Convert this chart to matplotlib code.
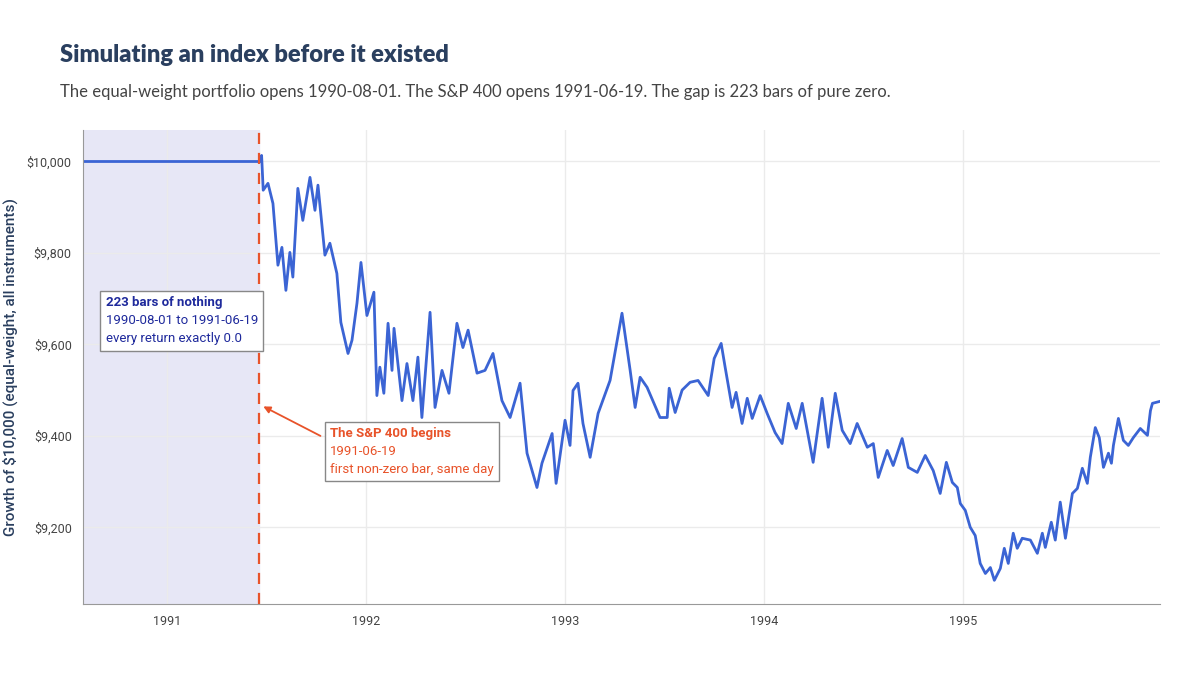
import matplotlib

matplotlib.use("Agg")

import matplotlib.pyplot as plt

plt.rcParams["text.parse_math"] = False
plt.rcParams["font.family"] = ["Roboto", "DejaVu Sans"]

# portafolio equal-weight (anio decimal, valor)
inicio_portafolio = 1990.583
inicio_sp400 = 1991.464
anios = [
    1991.464, 1991.476, 1991.484, 1991.508, 1991.533, 1991.558, 1991.578, 1991.598, 1991.618, 1991.633,
    1991.658, 1991.683, 1991.719, 1991.744, 1991.759, 1991.794, 1991.819, 1991.854, 1991.874,
    1991.910, 1991.930, 1991.955, 1991.975, 1992.005, 1992.040, 1992.055, 1992.070, 1992.090,
    1992.111, 1992.131, 1992.141, 1992.181, 1992.206, 1992.236, 1992.261, 1992.281, 1992.322,
    1992.347, 1992.382, 1992.417, 1992.457, 1992.487, 1992.513, 1992.558, 1992.598, 1992.638,
    1992.683, 1992.724, 1992.774, 1992.809, 1992.859, 1992.884, 1992.935, 1992.955, 1993.000,
    1993.025, 1993.040, 1993.065, 1993.090, 1993.126, 1993.166, 1993.226, 1993.286, 1993.327,
    1993.352, 1993.377, 1993.412, 1993.477, 1993.513, 1993.523, 1993.553, 1993.588, 1993.628,
    1993.668, 1993.719, 1993.749, 1993.784, 1993.804, 1993.839, 1993.859, 1993.889, 1993.915,
    1993.940, 1993.980, 1994.015, 1994.055, 1994.090, 1994.121, 1994.161, 1994.191, 1994.246,
    1994.291, 1994.322, 1994.357, 1994.392, 1994.432, 1994.467, 1994.518, 1994.548, 1994.573,
    1994.618, 1994.648, 1994.693, 1994.724, 1994.769, 1994.809, 1994.849, 1994.884, 1994.915,
    1994.945, 1994.970, 1994.985, 1995.010, 1995.035, 1995.060, 1995.085, 1995.111, 1995.136,
    1995.156, 1995.186, 1995.206, 1995.226, 1995.251, 1995.271, 1995.296, 1995.337, 1995.372,
    1995.397, 1995.412, 1995.442, 1995.462, 1995.487, 1995.513, 1995.548, 1995.573, 1995.598,
    1995.623, 1995.638, 1995.663, 1995.683, 1995.704, 1995.729, 1995.744, 1995.754, 1995.779,
    1995.804, 1995.829, 1995.854, 1995.889, 1995.925, 1995.940, 1995.950, 1995.985,
]
valores = [
    10000, 10013, 9937, 9952, 9908, 9773, 9812, 9718, 9801, 9747, 9941, 9871, 9965, 9893, 9948,
    9795, 9821, 9755, 9648, 9580, 9609, 9690, 9779, 9663, 9714, 9488, 9550, 9493, 9646, 9543,
    9635, 9477, 9558, 9477, 9572, 9440, 9670, 9462, 9543, 9493, 9646, 9593, 9631, 9537, 9543,
    9580, 9477, 9440, 9515, 9362, 9287, 9340, 9405, 9296, 9434, 9379, 9499, 9515, 9427, 9353,
    9449, 9521, 9668, 9543, 9462, 9528, 9506, 9440, 9440, 9504, 9451, 9500, 9517, 9521, 9488,
    9569, 9602, 9550, 9462, 9495, 9427, 9482, 9438, 9488, 9449, 9407, 9383, 9471, 9416, 9471,
    9342, 9482, 9375, 9493, 9412, 9383, 9427, 9375, 9383, 9309, 9368, 9335, 9394, 9331, 9320,
    9357, 9324, 9274, 9342, 9298, 9287, 9252, 9237, 9200, 9182, 9121, 9099, 9112, 9084, 9110,
    9154, 9121, 9187, 9154, 9176, 9172, 9143, 9187, 9156, 9211, 9172, 9255, 9176, 9274, 9285,
    9329, 9296, 9353, 9418, 9396, 9331, 9362, 9340, 9379, 9438, 9390, 9379, 9396, 9416, 9401,
    9455, 9471, 9475,
]
ticks_anios = [1991, 1992, 1993, 1994, 1995]
ticks_valores = [9200, 9400, 9600, 9800, 10000]

azul = "#3b64d4"
rojo = "#e8532a"
navy = "#1f2a9c"

fig = plt.figure(figsize=(12, 6.75), dpi=100)
ax = fig.add_axes([0.069, 0.105, 0.898, 0.702])

ax.axvspan(1990.578, inicio_sp400, color="#e7e7f6", zorder=0)
ax.plot([inicio_portafolio - 0.01, inicio_sp400], [10000, 10000], color=azul, lw=2)
ax.plot(anios, valores, color=azul, lw=2)
ax.axvline(inicio_sp400, color=rojo, ls=(0, (5, 4)), lw=1.6)

ax.set_xlim(1990.578, 1995.99)
ax.set_ylim(9032, 10068)
ax.set_xticks(ticks_anios)
ax.set_xticklabels([str(a) for a in ticks_anios])
ax.set_yticks(ticks_valores)
ax.set_yticklabels([f"${v:,}" for v in ticks_valores])
ax.tick_params(length=0, labelsize=9, colors="#444444", pad=8)
ax.grid(True, color="#ebebeb", lw=1)
ax.set_axisbelow(True)
for lado in ["top", "right"]:
    ax.spines[lado].set_visible(False)
ax.spines["left"].set_color("#999999")
ax.spines["bottom"].set_color("#999999")
ax.set_ylabel("Growth of $10,000 (equal-weight, all instruments)", fontsize=11,
              color="#2a3f5f", fontweight="medium", labelpad=6)

caja = dict(boxstyle="square,pad=0.4", fc="white", ec="#888888", lw=1)
ax.text(1990.693, 9705, "\n1990-08-01 to 1991-06-19\nevery return exactly 0.0",
        color=navy, fontsize=9.5, va="top", linespacing=1.5, bbox=caja)
ax.text(1990.693, 9705, "223 bars of nothing", color=navy, fontsize=9.5,
        fontweight="bold", va="top")
ax.text(1991.819, 9419, "\n1991-06-19\nfirst non-zero bar, same day",
        color=rojo, fontsize=9.5, va="top", linespacing=1.5, bbox=caja)
ax.text(1991.819, 9419, "The S&P 400 begins", color=rojo, fontsize=9.5,
        fontweight="bold", va="top")
ax.annotate("", xy=(1991.472, 9467), xytext=(1991.784, 9397),
            arrowprops=dict(arrowstyle="-|>", color=rojo, lw=1.3, mutation_scale=10))

fig.text(0.05, 0.918, "Simulating an index before it existed", fontsize=17,
         fontweight="heavy", color="#2a3f5f", family=["Lato", "DejaVu Sans"], va="center")
fig.text(0.05, 0.864, "The equal-weight portfolio opens 1990-08-01. The S&P 400 opens 1991-06-19. "
         "The gap is 223 bars of pure zero.", fontsize=12, color="#444444",
         family=["Lato", "DejaVu Sans"], va="center")

fig.savefig("out.png", dpi=100)
